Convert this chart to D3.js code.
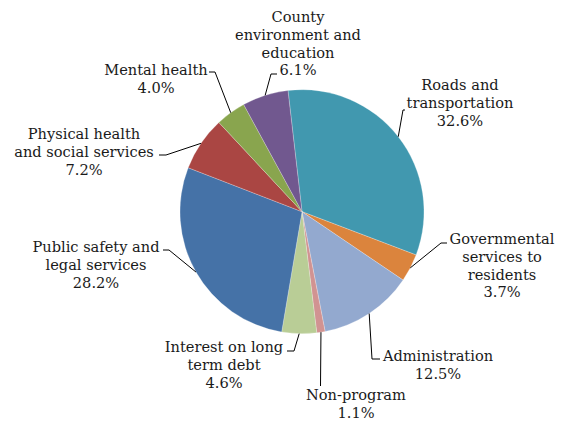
<!DOCTYPE html>
<html lang="en">
<head>
  <meta charset="UTF-8">
  <title>County spending</title>
  <style>
    body { margin: 0; background: #fff; }
    text { font-family: "DejaVu Serif", serif; font-size: 14.6px; fill: #1a1a1a; }
  </style>
</head>
<body>
  <svg width="564" height="421"></svg>

  <script src="https://d3js.org/d3.v7.min.js"></script>
  <script>
    // data
    const categories = [
      "Roads and transportation",
      "Governmental services to residents",
      "Administration",
      "Non-program",
      "Interest on long term debt",
      "Public safety and legal services",
      "Physical health and social services",
      "Mental health",
      "County environment and education"
    ];
    const shares = [32.6, 3.7, 12.5, 1.1, 4.6, 28.2, 7.2, 4.0, 6.1];
    const colors = ["#4198AF", "#DB843D", "#93A9CF", "#D19392", "#B9CD96",
                    "#4572A7", "#AA4643", "#89A54E", "#71588F"];

    // how each label is broken into lines (same order as categories)
    const labelLines = [
      ["Roads and", "transportation"],
      ["Governmental", "services to", "residents"],
      ["Administration"],
      ["Non-program"],
      ["Interest on long", "term debt"],
      ["Public safety and", "legal services"],
      ["Physical health", "and social services"],
      ["Mental health"],
      ["County", "environment and", "education"]
    ];

    // label layout: text centre, first line y, leader elbow + end
    const labelLayout = [
      { cx: 460, cy: 85,  elbow: [403, 110], end: [405, 110] },
      { cx: 502, cy: 239, elbow: [441, 243], end: [447, 243] },
      { cx: 438, cy: 356, elbow: [372, 359], end: [380, 359] },
      { cx: 356, cy: 395, elbow: [320.5, 386], end: [320.5, 386] },
      { cx: 224, cy: 347, elbow: [294, 351], end: [287, 351] },
      { cx: 96,  cy: 247, elbow: [169, 250], end: [163, 250] },
      { cx: 84,  cy: 134, elbow: [166, 155], end: [159, 155] },
      { cx: 156, cy: 70,  elbow: [215, 72],  end: [209, 72] },
      { cx: 298, cy: 17,  elbow: [271, 74],  end: [277, 74] }
    ];

    const svg = d3.select("svg");
    const cx = 302, cy = 211.7, r = 122;
    const lineH = 17.7;
    const startAngle = -6.6 * Math.PI / 180;

    const pie = d3.pie()
      .sort(null)
      .value(d => d)
      .startAngle(startAngle)
      .endAngle(startAngle + 2 * Math.PI);

    const arc = d3.arc().innerRadius(0).outerRadius(r);
    const arcs = pie(shares);

    const g = svg.append("g").attr("transform", `translate(${cx},${cy})`);

    g.selectAll("path")
      .data(arcs)
      .enter().append("path")
        .attr("d", arc)
        .attr("fill", (d, i) => colors[i])
        .attr("stroke", "#fff")
        .attr("stroke-width", 0.4)
        .attr("stroke-opacity", 0.6);

    // leader lines from slice edge (mid angle) to the label
    const leader = d3.line();
    svg.append("g")
      .selectAll("path")
      .data(arcs)
      .enter().append("path")
        .attr("fill", "none")
        .attr("stroke", "#000")
        .attr("stroke-width", 1)
        .attr("d", (d, i) => {
          const a = (d.startAngle + d.endAngle) / 2;
          const p0 = [cx + r * Math.sin(a), cy - r * Math.cos(a)];
          const L = labelLayout[i];
          return leader([p0, L.elbow, L.end]);
        });

    // labels
    const labels = svg.append("g")
      .selectAll("text")
      .data(arcs)
      .enter().append("text")
        .attr("text-anchor", "middle")
        .attr("x", (d, i) => labelLayout[i].cx)
        .attr("y", (d, i) => labelLayout[i].cy);

    labels.each(function(d, i) {
      const t = d3.select(this);
      const lines = labelLines[i].concat([d3.format(".1f")(shares[i]) + "%"]);
      lines.forEach((s, k) => {
        t.append("tspan")
          .attr("x", labelLayout[i].cx)
          .attr("y", labelLayout[i].cy + k * lineH)
          .attr("dy", "0.35em")
          .text(s);
      });
    });
  </script>
</body>
</html>
